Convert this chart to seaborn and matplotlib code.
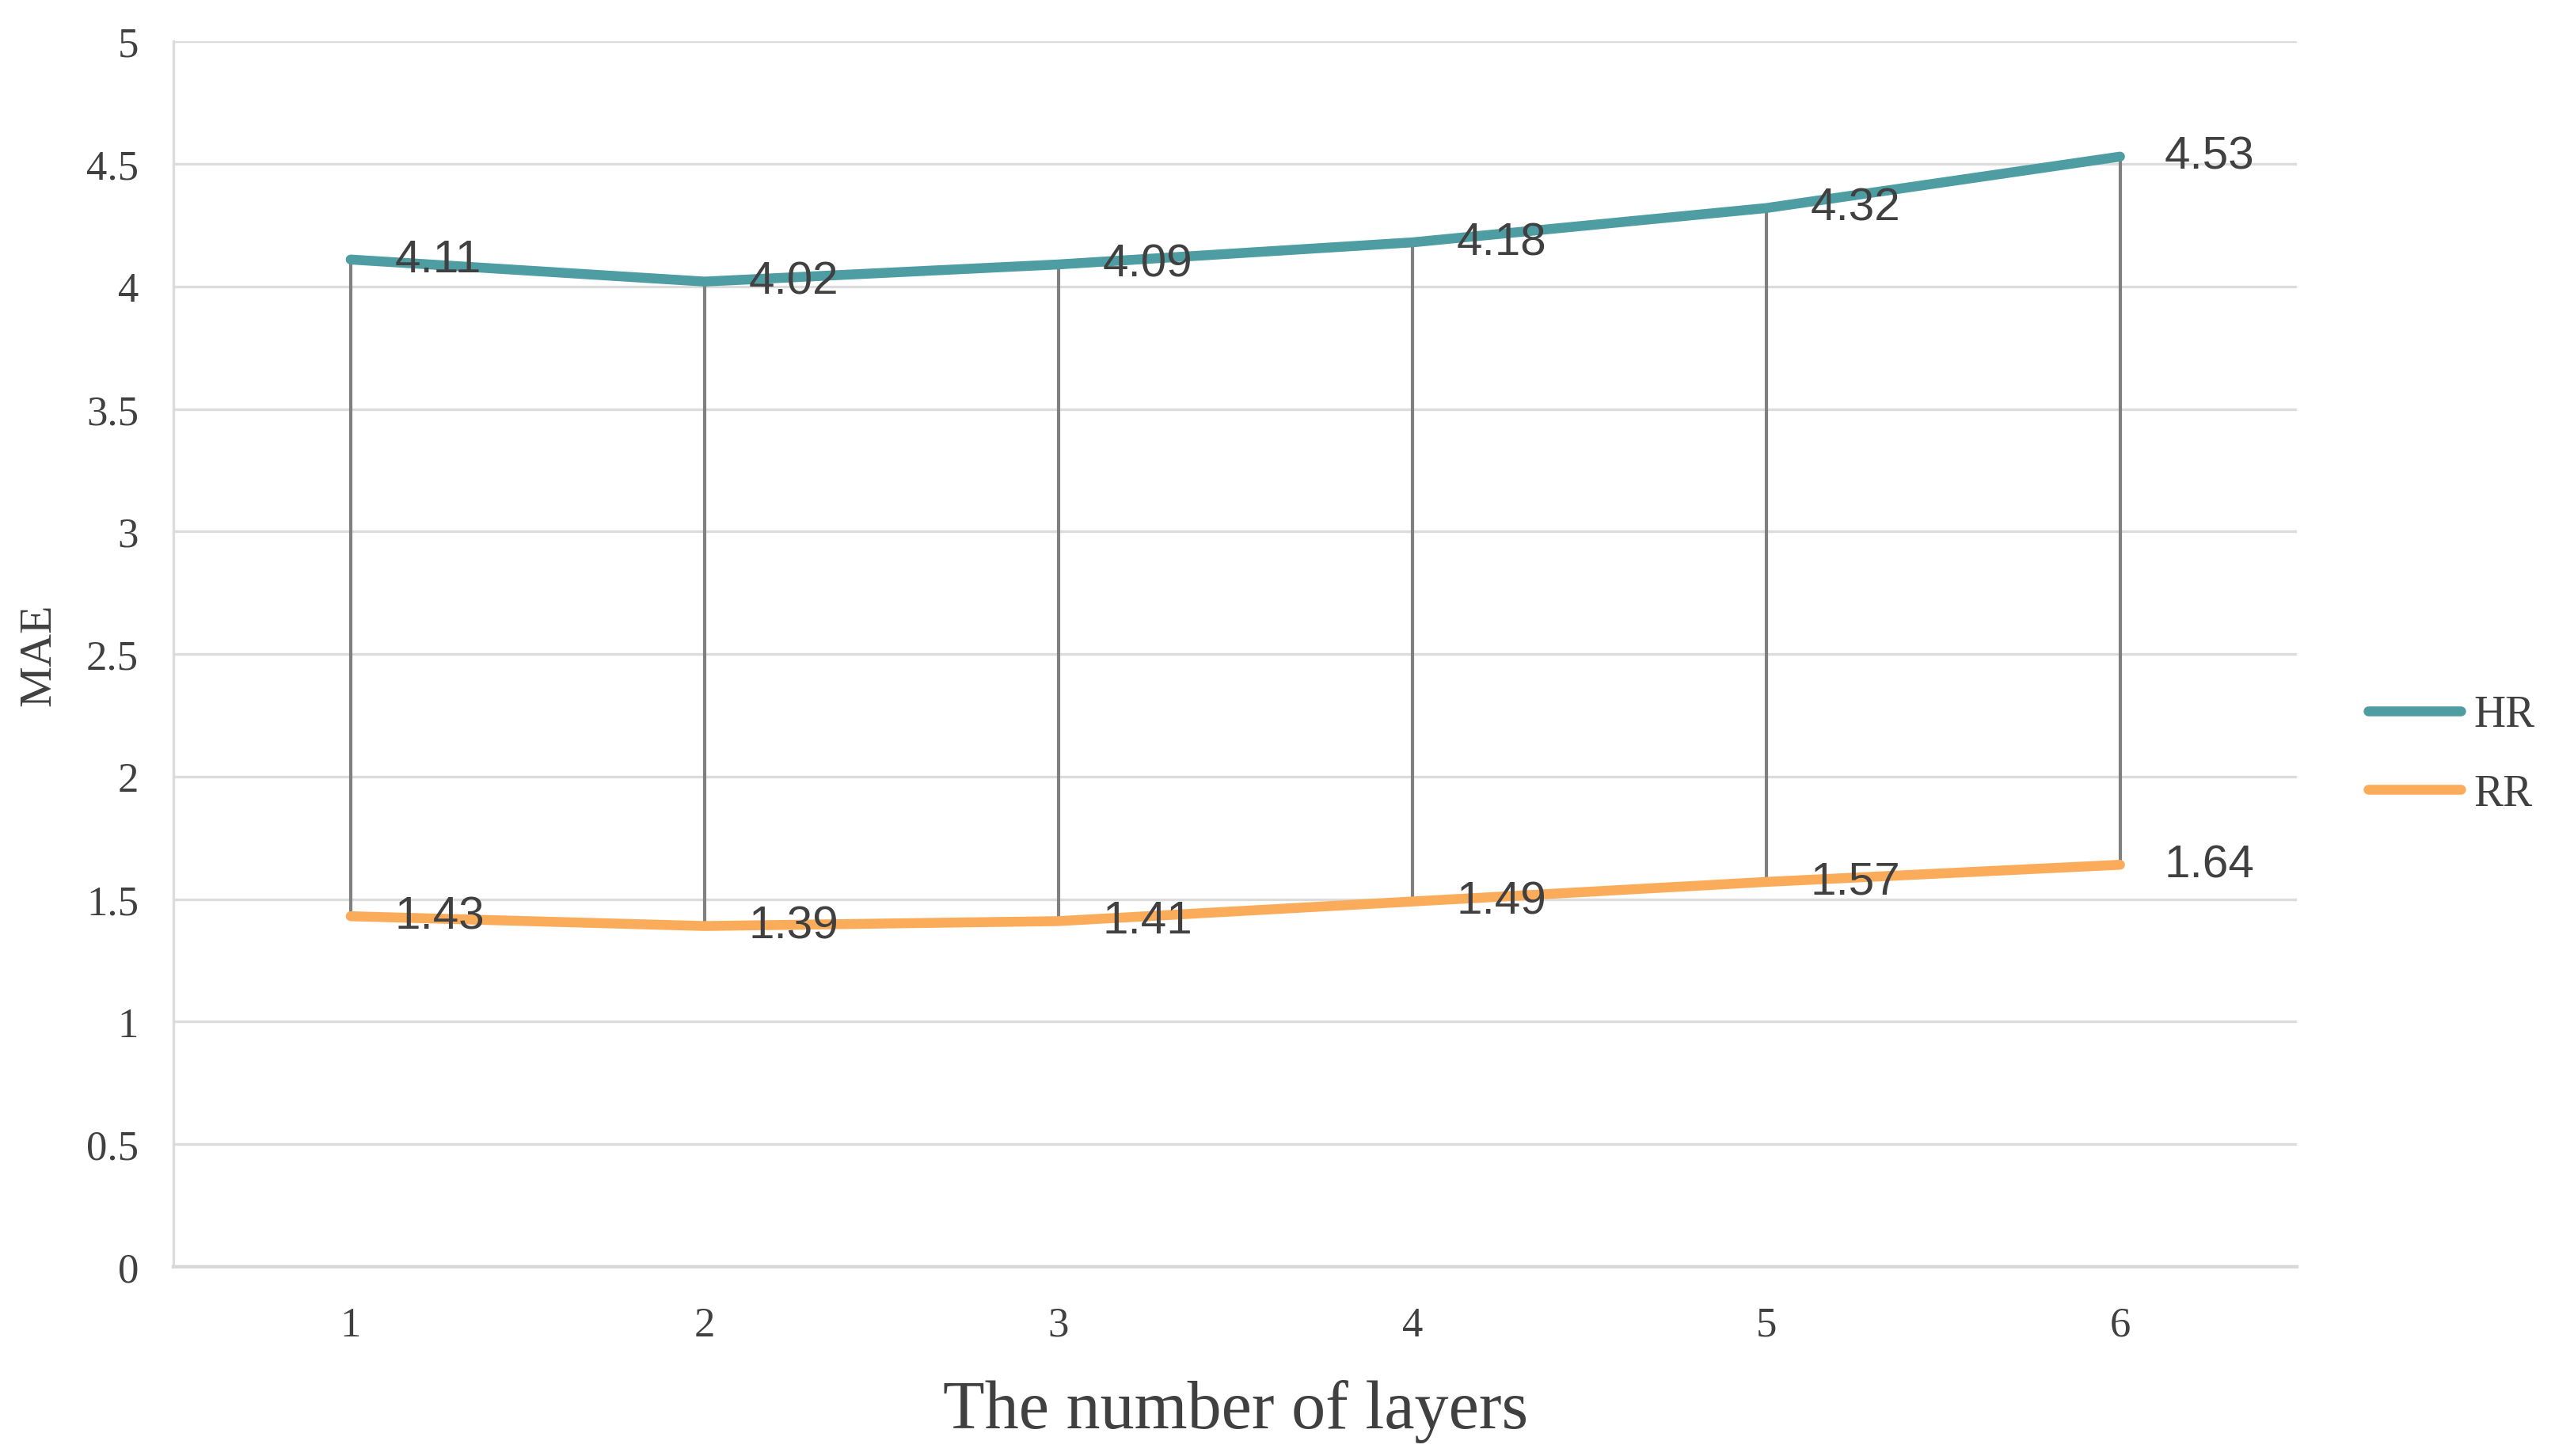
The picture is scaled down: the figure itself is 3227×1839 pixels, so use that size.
import numpy as np
import pandas as pd
import seaborn as sns
import matplotlib.pyplot as plt

# values
layers = [1, 2, 3, 4, 5, 6]
hr_mae = [4.11, 4.02, 4.09, 4.18, 4.32, 4.53]
rr_mae = [1.43, 1.39, 1.41, 1.49, 1.57, 1.64]
y_ticks = [0, 0.5, 1, 1.5, 2, 2.5, 3, 3.5, 4, 4.5, 5]

teal = '#4E9DA3'
orange = '#FBAC5A'
txt = '#404040'

df = pd.DataFrame({'layers': layers * 2,
                   'MAE': hr_mae + rr_mae,
                   'series': ['HR'] * 6 + ['RR'] * 6})

sns.set_style('white')
plt.rcParams['font.family'] = ['Liberation Serif', 'DejaVu Serif']

fig = plt.figure(figsize=(16.135, 9.2), dpi=200)
ax = fig.add_axes([0.068, 0.130, 0.831, 0.841])

# high-low style drop lines between the two series
ax.vlines(layers, rr_mae, hr_mae, color='#808080', lw=1.5, zorder=2)

sns.lineplot(data=df, x='layers', y='MAE', hue='series',
             palette={'HR': teal, 'RR': orange}, lw=4.5,
             solid_capstyle='round', ax=ax, zorder=3)

for xs, ys in [(layers, hr_mae), (layers, rr_mae)]:
    for xv, yv in zip(xs, ys):
        ax.annotate(f'{yv:.2f}', (xv, yv), xytext=(20, 0), textcoords='offset points',
                    ha='left', va='center', fontsize=21, color=txt,
                    family=['Liberation Sans', 'DejaVu Sans'], zorder=4)

ax.set_xlim(0.5, 6.5)
ax.set_ylim(0, 5)
ax.set_xticks(layers)
ax.set_yticks(y_ticks)
ax.set_yticklabels([f'{t:g}' for t in y_ticks])
ax.tick_params(axis='both', length=0, labelsize=19, labelcolor=txt)
ax.tick_params(axis='x', pad=18)
ax.tick_params(axis='y', pad=16)
ax.grid(axis='y', color='#DCDCDC', lw=1.2, zorder=0)
for s in ['top', 'right']:
    ax.spines[s].set_visible(False)
ax.spines['left'].set_color('#DCDCDC')
ax.spines['left'].set_linewidth(1.2)
ax.spines['bottom'].set_color('#D9D9D9')
ax.spines['bottom'].set_linewidth(1.6)

ax.set_xlabel('The number of layers', fontsize=31, color=txt, labelpad=16)
ax.set_ylabel('MAE', fontsize=21, color=txt, labelpad=12)

leg = ax.legend(loc='center left', bbox_to_anchor=(1.015, 0.418), frameon=False,
                fontsize=20, handlelength=2.1, handletextpad=0.3, labelspacing=0.85,
                title=None)
for t in leg.get_texts():
    t.set_color(txt)
for h in leg.get_lines():
    h.set_linewidth(4.5)

fig.savefig('out.png', dpi=200, facecolor='white')
